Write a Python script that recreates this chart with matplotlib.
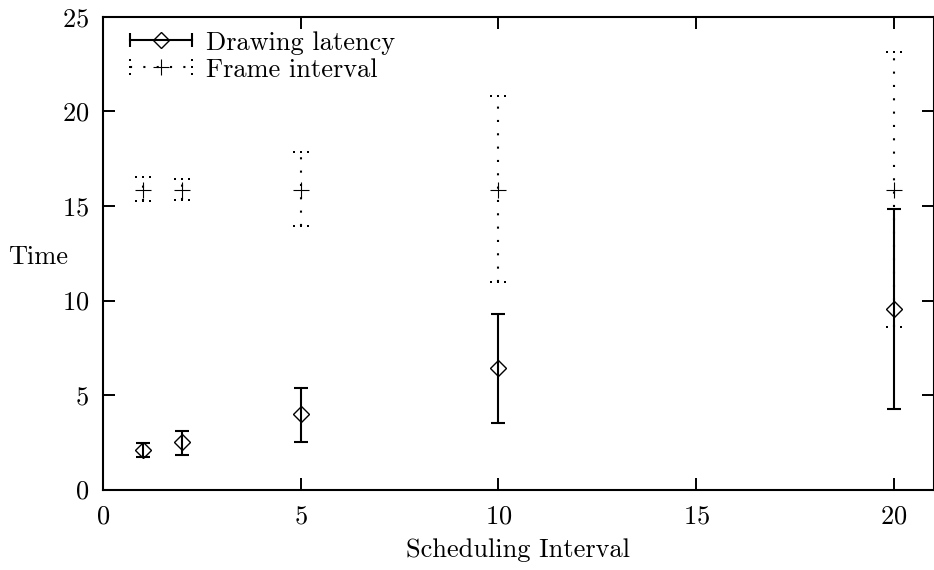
import matplotlib
matplotlib.use('Agg')
import matplotlib.pyplot as plt
import numpy as np
from matplotlib.path import Path
from matplotlib.lines import Line2D
from matplotlib.legend_handler import HandlerLine2D, HandlerTuple

plt.rcParams['font.family'] = 'cmr10'
plt.rcParams['axes.formatter.use_mathtext'] = True
plt.rcParams['mathtext.fontset'] = 'cm'

# data
intervals = [1, 2, 5, 10, 20]
latency_mean = [2.07, 2.51, 4.01, 6.43, 9.55]
latency_low = [1.72, 1.84, 2.53, 3.52, 4.25]
latency_high = [2.45, 3.12, 5.39, 9.27, 14.82]

frame_mean = [15.87, 15.87, 15.87, 15.87, 15.87]
frame_low = [15.29, 15.32, 13.95, 11.0, 8.62]
frame_high = [16.54, 16.42, 17.85, 20.8, 23.13]

FS = 19


def dots_marker(vertical=False):
    # three small squares in a row, used for gnuplot-style dotted caps
    paths = []
    for c in (-1.0, 0.0, 1.0):
        h = 0.15
        if vertical:
            verts = [(-h, c - h), (h, c - h), (h, c + h), (-h, c + h), (-h, c - h)]
        else:
            verts = [(c - h, -h), (c + h, -h), (c + h, h), (c - h, h), (c - h, -h)]
        paths.append(Path(verts, closed=True))
    return Path.make_compound_path(*paths)


fig = plt.figure(figsize=(9.34, 5.70), dpi=100)
ax = fig.add_axes([103 / 934, (570 - 489.5) / 570, 830.5 / 934, 472.5 / 570])

x = np.array(intervals)
lm = np.array(latency_mean)
fm = np.array(frame_mean)

# frame interval: dotted bars
f_err = [fm - np.array(frame_low), np.array(frame_high) - fm]
_, fcaps, fbars = ax.errorbar(x, fm, yerr=f_err, fmt='none', ecolor='k',
                              elinewidth=1.5, capsize=5.5, zorder=2)
fbars[0].set_linestyle((0, (1, 5.4)))
for c in fcaps:
    c.set_marker(dots_marker())
    c.set_markersize(11)
    c.set_markerfacecolor('k')
    c.set_markeredgewidth(0)
ax.plot(x, fm, ls='none', marker='+', ms=12, mew=0.8, color='k', zorder=3)

# drawing latency: solid bars
l_err = [lm - np.array(latency_low), np.array(latency_high) - lm]
ax.errorbar(x, lm, yerr=l_err, fmt='none', ecolor='k', elinewidth=1.5,
            capsize=5, capthick=1.5, zorder=2)
ax.plot(x, lm, ls='none', marker='D', ms=8.3, mew=1.0, mfc='none',
        color='k', zorder=3)

ax.set_xlim(0, 21)
ax.set_ylim(0, 25)
ax.set_xticks([0, 5, 10, 15, 20])
ax.set_yticks([0, 5, 10, 15, 20, 25])
ax.tick_params(direction='in', length=8.6, width=1.4, top=True, right=True,
               labelsize=FS)
ax.tick_params(axis='x', pad=11)
ax.tick_params(axis='y', pad=10)
for s in ax.spines.values():
    s.set_linewidth(1.5)

ax.set_xlabel('Scheduling Interval', fontsize=FS, labelpad=7)
ax.set_ylabel('Time', fontsize=FS, rotation=0, va='center', ha='center')
ax.yaxis.set_label_coords(-0.078, 0.492)

# gnuplot-like legend samples
lat_line = Line2D([], [], color='k', lw=1.5, marker='|', ms=10, mew=1.5)
lat_pt = Line2D([], [], ls='none', marker='D', ms=8.3, mew=1.0, mfc='none', color='k')
fr_line = Line2D([], [], color='k', lw=1.5, ls=(0, (1, 5.4)),
                 marker=dots_marker(vertical=True), ms=11, mfc='k', mew=0)
fr_pt = Line2D([], [], ls='none', marker='+', ms=12, mew=0.8, color='k')
hmap = {lat_line: HandlerLine2D(numpoints=2), lat_pt: HandlerLine2D(numpoints=1),
        fr_line: HandlerLine2D(numpoints=2), fr_pt: HandlerLine2D(numpoints=1),
        tuple: HandlerTuple(ndivide=1)}
ax.legend([(lat_line, lat_pt), (fr_line, fr_pt)],
          ['Drawing latency', 'Frame interval'], handler_map=hmap,
          loc='upper left', bbox_to_anchor=(19 / 830.5, (489.5 - 31) / 472.5),
          frameon=False, fontsize=FS, borderpad=0, borderaxespad=0,
          handlelength=2.95, handletextpad=0.25, labelspacing=0.12)

fig.savefig('out.png', dpi=100)
